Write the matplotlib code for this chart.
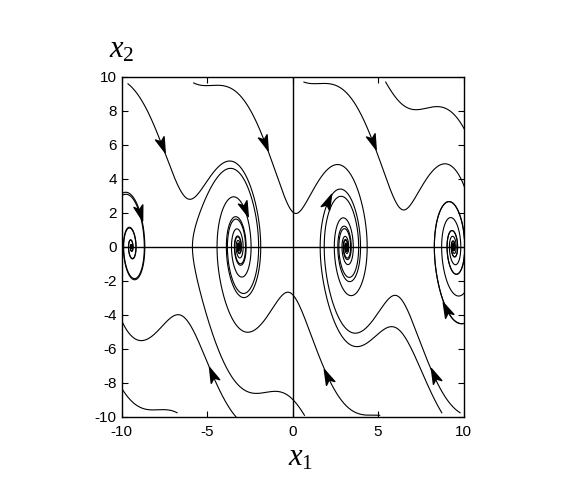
import numpy as np
import matplotlib
matplotlib.use("Agg")
import matplotlib.pyplot as plt
from matplotlib.markers import MarkerStyle
from matplotlib.path import Path
from matplotlib.transforms import Affine2D

plt.rcParams["axes.unicode_minus"] = False
plt.rcParams["mathtext.fontset"] = "custom"
plt.rcParams["mathtext.it"] = "Liberation Serif:italic"
plt.rcParams["mathtext.rm"] = "Liberation Serif"

# damped pendulum: x1' = x2, x2' = a*sin(x1) - b*x2
a_gain = 10.0
b_damp = 1.0

# where each trajectory starts
start_x1 = [-10.0, -9.62, -5.78, 0.67, 5.45, -6.75, -3.3, 0.7, 5.1, 9.8, 8.73, 10.0]
start_x2 = [3.0, 9.6, 9.65, 9.7, 9.7, -9.75, -10.0, -9.9, -9.9, -9.75, -9.75, -4.5]

# arrow heads placed on the curves
arrow_x1 = [-7.69, -1.72, 4.65, -8.92, -2.88, 1.6, 9.11, -4.55, 2.09, 8.33]
arrow_x2 = [6.0, 6.1, 6.2, 2.0, 2.18, 2.9, -3.6, -7.33, -7.53, -7.53]

x_ticks = [-10, -5, 0, 5, 10]
y_ticks = [-10, -8, -6, -4, -2, 0, 2, 4, 6, 8, 10]


def field(s):
    return np.array([s[1], a_gain * np.sin(s[0]) - b_damp * s[1]])


def trajectory(x0, y0, t_end=20.0, dt=0.005):
    s = np.array([x0, y0], dtype=float)
    pts = [s.copy()]
    for _ in range(int(t_end / dt)):
        k1 = field(s)
        k2 = field(s + 0.5 * dt * k1)
        k3 = field(s + 0.5 * dt * k2)
        k4 = field(s + dt * k3)
        s = s + dt / 6 * (k1 + 2 * k2 + 2 * k3 + k4)
        pts.append(s.copy())
    return np.array(pts)


W, H = 568, 492
fig = plt.figure(figsize=(W / 100, H / 100), dpi=100)
ax = fig.add_axes([121.5 / W, 1 - 417 / H, 342 / W, 340 / H])

curves = [trajectory(x, y) for x, y in zip(start_x1, start_x2)]
for c in curves:
    ax.plot(c[:, 0], c[:, 1], color="k", lw=0.8)

ax.axhline(0, color="k", lw=1.0)
ax.axvline(0, color="k", lw=1.0)

# notched arrow head pointing along +x
head = Path([(1, 0), (-1, 0.6), (-0.5, 0), (-1, -0.6), (1, 0)],
            [Path.MOVETO, Path.LINETO, Path.LINETO, Path.LINETO, Path.CLOSEPOLY])
for ax1, ax2 in zip(arrow_x1, arrow_x2):
    best = None
    for c in curves:
        d = (c[:, 0] - ax1) ** 2 + (c[:, 1] - ax2) ** 2
        i = np.argmin(d)
        if best is None or d[i] < best[0]:
            best = (d[i], c[i])
    p = best[1]
    v = field(p)
    ang = np.degrees(np.arctan2(v[1], v[0]))
    m = MarkerStyle(head, transform=Affine2D().rotate_deg(ang))
    ax.plot(p[0], p[1], marker=m, ms=11, color="k", mec="k", ls="none")

ax.set_xlim(-10, 10)
ax.set_ylim(-10, 10)
ax.set_xticks(x_ticks)
ax.set_yticks(y_ticks)
ax.tick_params(direction="in", length=4, top=True, right=True,
               labelsize=11, width=0.8)
ax.tick_params(axis="x", pad=6)
for lab in ax.get_xticklabels() + ax.get_yticklabels():
    lab.set_family("Liberation Sans")
for sp in ax.spines.values():
    sp.set_linewidth(1.0)

fig.text(122 / W, 1 - 50 / H, r"$x_2$", fontsize=22, ha="center", va="center")
fig.text(301 / W, 1 - 457 / H, r"$x_1$", fontsize=22, ha="center", va="center")

fig.savefig("out.png", dpi=100)
